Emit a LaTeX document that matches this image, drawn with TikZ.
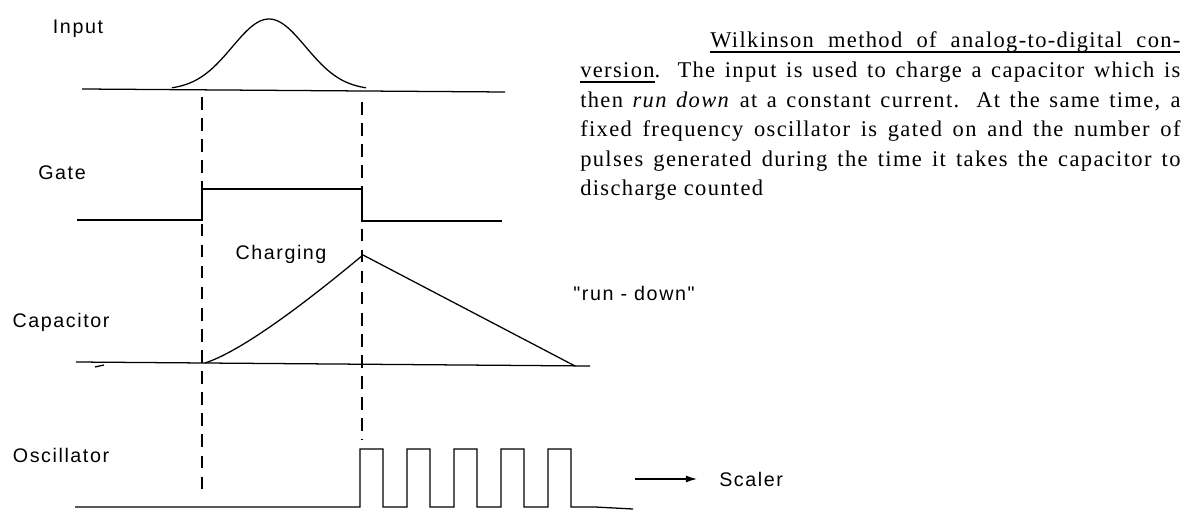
\documentclass[tikz,border=0pt]{standalone}
\usepackage{fontspec}
\setmainfont{Liberation Serif}
\newfontfamily\labelfont[LetterSpace=8]{Liberation Sans}
\newfontfamily\notefont[LetterSpace=6]{Liberation Serif}
\usetikzlibrary{arrows.meta}
\newcommand{\thickul}[1]{\setbox0\hbox{#1}\rlap{\rule[-3.6pt]{\wd0}{1.3pt}}\box0}
\tikzset{
    signal/.style={
        line width=0.9pt,
        line join=miter
    },
    guide/.style={
        line width=0.8pt,
        dash pattern=on 9pt off 6pt
    },
    sigLabel/.style={
        font=\labelfont\fontsize{14}{16}\selectfont,
        inner sep=0pt
    },
}
\begin{document}
\begin{tikzpicture}[x=0.025cm, y=-0.025cm,
    scalerArrow/.style={-{Latex[length=8pt,width=5pt]}, line width=0.9pt}
]
    \useasboundingbox (0,0) rectangle (1192,511);

    % Timing guides
    \draw[guide] (202,97) -- (202,497);
    \draw[guide] (362,102) -- (362,440);

    % Input pulse
    \node[sigLabel] (input) at (78,29) {Input};
    \draw[signal] (82,89) -- (505,92);
    \draw[signal] plot[domain=172:366, samples=90] (\x,{90-71*exp(-(((\x-269)/52)^2))});

    % Gate
    \node[sigLabel] (gate) at (62,173) {Gate};
    \draw[signal] (77,220) -- (202,220) -- (202,189) -- (362,189) -- (362,221) -- (502,221);

    % Capacitor charge and run-down
    \node[sigLabel] (charging) at (281,254) {Charging};
    \node[sigLabel] (capacitor) at (61,322) {Capacitor};
    \node[sigLabel] (rundown) at (634,293) {"run - down"};
    \draw[signal] (76,362) -- (590,366);
    \draw[signal] (205,363) .. controls (245,350) and (315,295) .. (363,255) -- (575,366);
    \draw[signal] (95,367) -- (104,365);

    % Oscillator
    \node[sigLabel] (osc) at (61,455) {Oscillator};
    \draw[signal] (75,507) -- (360,507)
        \foreach \n in {1,...,5} { -- ++(0,-58) -- ++(23,0) -- ++(0,58) -- ++(24,0) }
        -- (633,509);

    % Output to scaler
    \node[sigLabel, anchor=west] (scaler) at (719,479) {Scaler};
    \coordinate (scalerTail) at (635,479);
    \draw[scalerArrow] (scalerTail) -- ([xshift=-0.55cm]scaler.west);

    % Caption
    \node[anchor=base west, inner sep=0pt] (caption) at (580,48) {\parbox[t]{15cm}{%
        \notefont\fontsize{16}{21}\selectfont
        \baselineskip=21pt \lineskiplimit=-6pt
        \hspace*{\fill}\thickul{\makebox[11.75cm][s]{Wilkinson method of analog-to-digital con-}}\\
        \thickul{version}. The input is used to charge a capacitor which is\linebreak
        then \textit{run down} at a constant current. At the same time, a\linebreak
        fixed frequency oscillator is gated on and the number of\linebreak
        pulses generated during the time it takes the capacitor to\linebreak
        discharge counted\par}};

\end{tikzpicture}
\end{document}
